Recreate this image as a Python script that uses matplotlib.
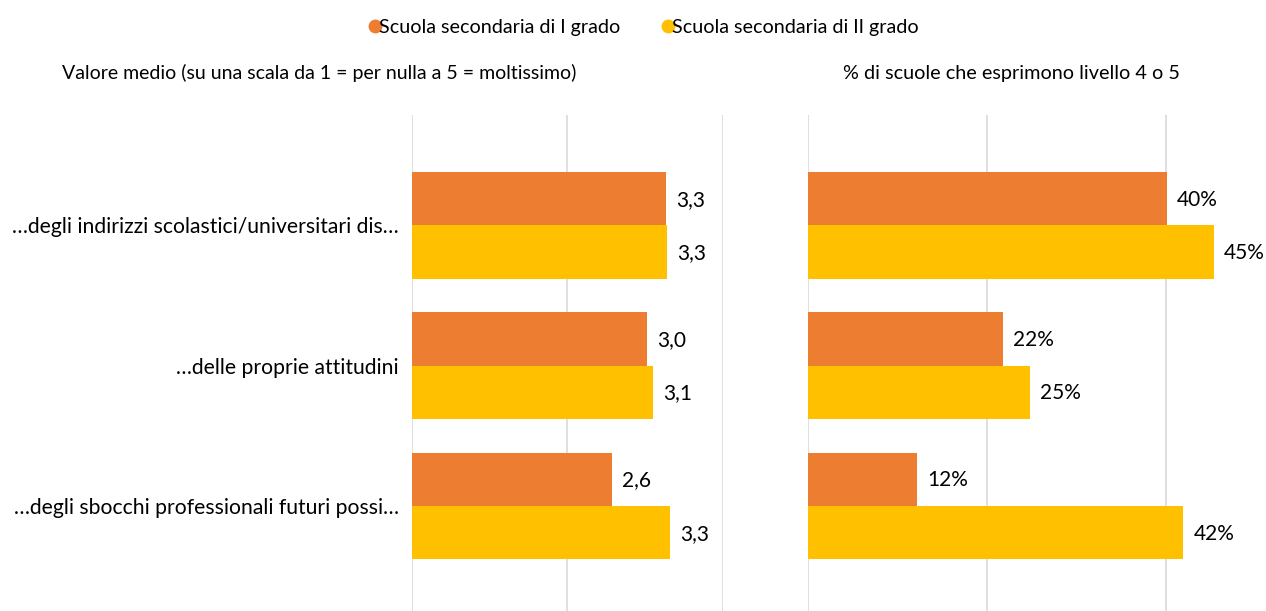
import matplotlib
matplotlib.use("Agg")
import matplotlib.pyplot as plt
from matplotlib.lines import Line2D
import numpy as np

categories = ["…degli indirizzi scolastici/universitari dis…",
              "…delle proprie attitudini",
              "…degli sbocchi professionali futuri possi…"]
series_names = ["Scuola secondaria di I grado", "Scuola secondaria di II grado"]
media_I = [3.27, 3.03, 2.58]
media_II = [3.28, 3.10, 3.32]
perc_I = [0.401, 0.218, 0.122]
perc_II = [0.453, 0.248, 0.419]
title_left = "Valore medio (su una scala da 1 = per nulla a 5 = moltissimo)"
title_right = "% di scuole che esprimono livello 4 o 5"

c_I = "#ED7D31"
c_II = "#FFC000"
FONT = "Lato"
plt.rcParams['font.family'] = [FONT, 'DejaVu Sans']

W, H = 1266, 611
fig = plt.figure(figsize=(W / 100, H / 100), dpi=100)

def px_axes(x0, x1, y0, y1):
    return fig.add_axes([x0 / W, 1 - y1 / H, (x1 - x0) / W, (y1 - y0) / H])

axL = px_axes(411.5, 723, 115, 611)
axR = px_axes(807.7, 1256, 115, 611)

y = np.arange(len(categories))
bh = 0.38

def draw(ax, a, b, xlim, ticks, fmt, show_cats):
    ba = ax.barh(y - bh / 2, a, height=bh, color=c_I, zorder=2)
    bb = ax.barh(y + bh / 2, b, height=bh, color=c_II, zorder=2)
    ax.set_xlim(*xlim)
    ax.set_ylim(2.747, -0.786)
    ax.set_xticks(ticks)
    ax.xaxis.grid(True, color="#D9D9D9", linewidth=1.2, zorder=0)
    ax.tick_params(axis='x', length=0, labelbottom=False)
    for s in ax.spines.values():
        s.set_visible(False)
    if show_cats:
        ax.set_yticks(y)
        ax.set_yticklabels(categories, fontsize=15.2, color="#000000")
        ax.tick_params(axis='y', length=0, pad=9)
    else:
        ax.set_yticks([])
    for bars, vals in ((ba, a), (bb, b)):
        for rect, v in zip(bars, vals):
            ax.annotate(fmt(v), xy=(rect.get_width(), rect.get_y() + rect.get_height() / 2),
                        xytext=(10, -1), textcoords="offset pixels",
                        va="center", ha="left", fontsize=15, color="#000000")

draw(axL, media_I, media_II, (0, 4), [0, 2, 4],
     lambda v: f"{v:.1f}".replace(".", ","), True)
draw(axR, perc_I, perc_II, (0, 0.5), [0, 0.2, 0.4],
     lambda v: f"{round(v * 100):d}%", False)

fig.text(62 / W, 1 - 73 / H, title_left, ha="left", va="center", fontsize=14)
fig.text(843 / W, 1 - 73 / H, title_right, ha="left", va="center", fontsize=14.3)

handles = [Line2D([], [], marker='o', linestyle='none', markersize=9, color=c)
           for c in (c_I, c_II)]
fig.legend(handles, series_names, loc="center", bbox_to_anchor=(642 / W, 1 - 27 / H),
           ncol=2, frameon=False, fontsize=14.2, handletextpad=-0.3,
           columnspacing=1.95, handlelength=1.0)

fig.savefig("out.png", dpi=100)
